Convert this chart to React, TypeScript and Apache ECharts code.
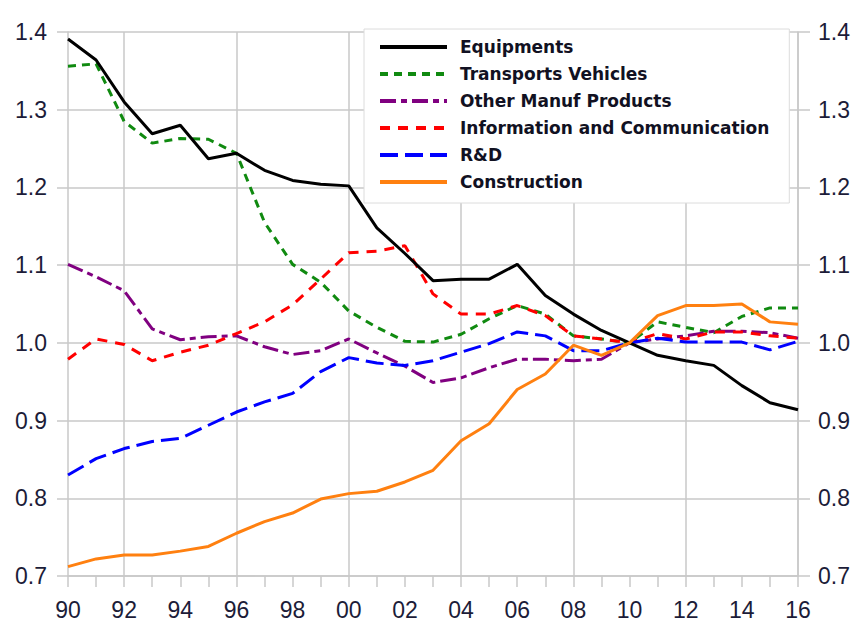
import React, { useEffect, useRef } from "react";
import * as echarts from "echarts";

const years = ["90","91","92","93","94","95","96","97","98","99","00","01","02","03","04","05","06","07","08","09","10","11","12","13","14","15","16"];

const equipments = [1.391,1.364,1.31,1.269,1.28,1.237,1.244,1.222,1.209,1.204,1.202,1.148,1.115,1.080,1.082,1.082,1.101,1.061,1.037,1.016,1.0,0.984,0.977,0.971,0.945,0.923,0.914];
const transports = [1.356,1.359,1.285,1.257,1.263,1.262,1.244,1.155,1.101,1.078,1.041,1.020,1.002,1.001,1.011,1.031,1.048,1.037,1.009,1.005,1.0,1.027,1.020,1.013,1.034,1.045,1.045];
const otherManuf = [1.101,1.085,1.067,1.018,1.004,1.008,1.009,0.995,0.985,0.990,1.005,0.987,0.970,0.949,0.955,0.968,0.979,0.979,0.977,0.979,1.0,1.005,1.009,1.015,1.015,1.013,1.006];
const infoComm = [0.979,1.005,0.998,0.977,0.988,0.997,1.012,1.027,1.049,1.082,1.116,1.118,1.125,1.063,1.037,1.037,1.048,1.035,1.009,1.005,1.0,1.012,1.005,1.014,1.014,1.009,1.006];
const rnd = [0.830,0.851,0.864,0.873,0.877,0.894,0.911,0.924,0.935,0.963,0.981,0.974,0.971,0.977,0.988,0.999,1.014,1.009,0.990,0.990,1.0,1.006,1.001,1.001,1.001,0.991,1.002];
const construction = [0.712,0.722,0.727,0.727,0.732,0.738,0.755,0.770,0.781,0.799,0.806,0.809,0.821,0.836,0.874,0.896,0.940,0.960,0.997,0.984,1.0,1.035,1.048,1.048,1.050,1.027,1.024];

const seriesNames = ["Equipments","Transports Vehicles","Other Manuf Products","Information and Communication","R&D","Construction"];

export default function App() {
  const ref = useRef<HTMLDivElement>(null);
  useEffect(() => {
    if (!ref.current) return;
    const chart = echarts.init(ref.current, null, { renderer: "svg" });
    const gridColor = "#c8c8c8";
    const labelColor = "#1c1c38";
    const tickFont = { fontFamily: "Arial, 'Liberation Sans', sans-serif", fontSize: 23, color: labelColor };
    const mk = (name: string, data: number[], color: string, type: any, width = 3, z = 2) => ({
      name,
      type: "line",
      data,
      symbol: "none",
      showSymbol: false,
      z,
      lineStyle: { color, width, type },
      itemStyle: { color },
    });
    chart.setOption({
      animation: false,
      backgroundColor: "#ffffff",
      grid: { left: 68, right: 60, top: 32, bottom: 43, containLabel: false },
      legend: {
        orient: "vertical",
        left: 364,
        top: 29,
        padding: [8, 20, 11, 14],
        itemWidth: 67,
        itemHeight: 14,
        itemGap: 7,
        backgroundColor: "#ffffff",
        borderColor: "#dcdcdc",
        borderWidth: 1,
        data: seriesNames,
        itemStyle: { opacity: 0 },
        lineStyle: { width: 4 },
        textStyle: {
          fontFamily: "'DejaVu Sans', sans-serif",
          fontWeight: "bold",
          fontSize: 17,
          lineHeight: 20,
          color: "#111122",
          padding: [0, 0, 0, 8],
        },
      },
      xAxis: {
        type: "category",
        data: years,
        boundaryGap: false,
        axisLine: { show: true, lineStyle: { color: gridColor, width: 1.5 } },
        axisTick: { show: true, interval: 0, length: 11, lineStyle: { color: gridColor, width: 1.5 } },
        axisLabel: { interval: 1, margin: 22, ...tickFont },
        splitLine: {
          show: true,
          interval: (idx: number) => idx % 4 === 2,
          lineStyle: { color: gridColor, width: 1.5 },
        },
      },
      yAxis: [
        {
          type: "value",
          min: 0.7,
          max: 1.4,
          interval: 0.1,
          position: "left",
          axisLine: { show: true, lineStyle: { color: gridColor, width: 1.5 } },
          axisTick: { show: true, length: 11, lineStyle: { color: gridColor, width: 1.5 } },
          axisLabel: { margin: 21, formatter: (v: number) => v.toFixed(1), ...tickFont },
          splitLine: { show: true, lineStyle: { color: gridColor, width: 1.5 } },
        },
        {
          type: "value",
          min: 0.7,
          max: 1.4,
          interval: 0.1,
          position: "right",
          axisLine: { show: true, lineStyle: { color: gridColor, width: 1.5 } },
          axisTick: { show: true, length: 12, lineStyle: { color: gridColor, width: 1.5 } },
          axisLabel: { margin: 20, formatter: (v: number) => v.toFixed(1), ...tickFont },
          splitLine: { show: false },
        },
      ],
      series: [
        mk(seriesNames[0], equipments, "#000000", "solid", 3, 3),
        mk(seriesNames[1], transports, "#108a10", [8, 6], 3, 2),
        mk(seriesNames[2], otherManuf, "#800080", [16, 5, 6, 5], 3, 2),
        mk(seriesNames[3], infoComm, "#ff0000", [10, 8], 3, 2),
        mk(seriesNames[4], rnd, "#0000ff", [18, 7], 3, 2),
        mk(seriesNames[5], construction, "#ff8010", "solid", 3, 4),
      ],
    });
    return () => chart.dispose();
  }, []);
  return <div ref={ref} style={{ position: "absolute", left: 0, top: 0, width: 858, height: 621 }} />;
}
